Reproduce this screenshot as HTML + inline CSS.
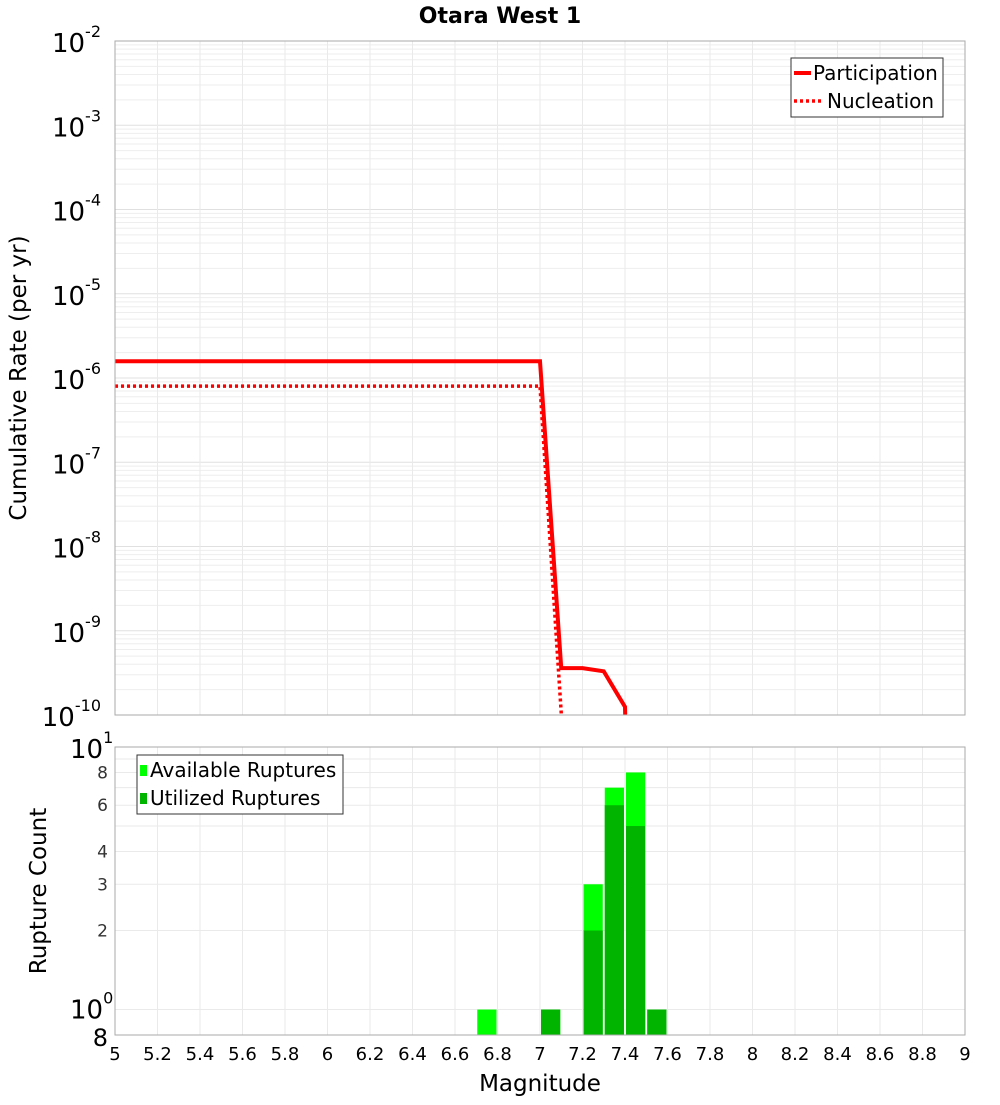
<!DOCTYPE html>
<html><head><meta charset="utf-8"><style>
body{margin:0;background:#fff;font-family:"Liberation Sans","DejaVu Sans",sans-serif}
svg text{font-family:"DejaVu Sans","Liberation Sans",sans-serif}
</style></head><body>
<svg id="c" width="1000" height="1100" xmlns="http://www.w3.org/2000/svg"></svg>
<script>
const partMags=[5,7.0,7.1,7.2,7.3,7.4,7.41];
const partVals=[1.58e-6,1.58e-6,3.6e-10,3.6e-10,3.3e-10,1.25e-10,1e-11];
const nuclMags=[5,7.0,7.1,7.11];
const nuclVals=[8.0e-7,8.0e-7,1.05e-10,1e-11];
const binCenters=[6.75,7.05,7.25,7.35,7.45,7.55];
const available=[1,1,3,7,8,1];
const utilized=[0,1,2,6,5,1];
const xTicks=[5,5.2,5.4,5.6,5.8,6,6.2,6.4,6.6,6.8,7,7.2,7.4,7.6,7.8,8,8.2,8.4,8.6,8.8,9];
const topExps=[-2,-3,-4,-5,-6,-7,-8,-9,-10];
const botTicks=[2,3,4,6,8];

const S=document.getElementById('c'),NS='http://www.w3.org/2000/svg';
function el(t,a,p){const e=document.createElementNS(NS,t);for(const k in a)e.setAttribute(k,a[k]);(p||S).appendChild(e);return e;}
const L=115,R=965,T1=41,B1=715,T2=747,B2=1035;
const x=m=>L+(m-5)/4*(R-L);
const y1=v=>T1+(-2-Math.log10(v))*(B1-T1)/8;
const lmin=Math.log10(0.8);
const y2=v=>B2-(Math.log10(v)-lmin)/(1-lmin)*(B2-T2);

let g=el('g',{}),e;

for(let d=-10;d<-2;d++)for(let k=1;k<10;k++){const yy=y1(k*Math.pow(10,d));if(yy<T1)continue;
 el('line',{x1:L,x2:R,y1:yy,y2:yy,stroke:k==1?'#e0e0e0':'#eeeeee','stroke-width':1},g);}
[1,2,3,4,5,6,7,8,9,10].forEach(v=>{const yy=y2(v);el('line',{x1:L,x2:R,y1:yy,y2:yy,stroke:'#eaeaea'},g);});
xTicks.forEach(m=>{el('line',{x1:x(m),x2:x(m),y1:T1,y2:B1,stroke:'#eaeaea'},g);el('line',{x1:x(m),x2:x(m),y1:T2,y2:B2,stroke:'#eaeaea'},g);});

const bw=x(5.1)-x(5)-2;
binCenters.forEach((m,i)=>{
 e=el('rect',{x:x(m)-bw/2,y:y2(available[i]),width:bw,height:B2-y2(available[i]),fill:'#00ff00'});
 
 if(utilized[i]>0){e=el('rect',{x:x(m)-bw/2,y:y2(utilized[i]),width:bw,height:B2-y2(utilized[i]),fill:'#00b400'});
 }
});

const cp=el('clipPath',{id:'cp'});
el('rect',{x:L,y:T1,width:R-L,height:B1-T1},cp);
e=el('polyline',{points:nuclMags.map((m,i)=>x(m)+','+y1(nuclVals[i])).join(' '),fill:'none',stroke:'#ff0000','stroke-width':3.5,'stroke-dasharray':'3,3','clip-path':'url(#cp)'});

e=el('polyline',{points:partMags.map((m,i)=>x(m)+','+y1(partVals[i])).join(' '),fill:'none',stroke:'#ff0000','stroke-width':4,'clip-path':'url(#cp)'});


e=el('rect',{x:L,y:T1,width:R-L,height:B1-T1,fill:'none',stroke:'#aaa'});
e=el('rect',{x:L,y:T2,width:R-L,height:B2-T2,fill:'none',stroke:'#aaa'});

topExps.forEach(p=>{const t=el('text',{x:101,y:y1(Math.pow(10,p))+11,'text-anchor':'end','font-size':26});
 t.innerHTML='10<tspan dy="-15" font-size="16">'+p+'</tspan>';
 });
let t=el('text',{x:70,y:y2(10)+11,'font-size':26});t.innerHTML='10<tspan dy="-15" font-size="16">1</tspan>';
t=el('text',{x:70,y:y2(1)+9,'font-size':26});t.innerHTML='10<tspan dy="-15" font-size="16">0</tspan>';
t=el('text',{x:108,y:B2+11,'font-size':24,'text-anchor':'end'});t.textContent='8';
botTicks.forEach(v=>{t=el('text',{x:108,y:y2(v)+6,'font-size':17,'text-anchor':'end',fill:'#333'});t.textContent=v;
 });
xTicks.forEach(m=>{t=el('text',{x:x(m),y:1060,'font-size':18,'text-anchor':'middle'});t.textContent=m;
 });

t=el('text',{x:500,y:23,'font-size':22,'font-weight':'bold','text-anchor':'middle'});t.textContent='Otara West 1';
t=el('text',{x:540,y:1091,'font-size':23,'text-anchor':'middle'});t.textContent='Magnitude';
t=el('text',{x:0,y:0,'font-size':23,'text-anchor':'middle',transform:'translate(26,378) rotate(-90)'});t.textContent='Cumulative Rate (per yr)';
t=el('text',{x:0,y:0,'font-size':23,'text-anchor':'middle',transform:'translate(46,891) rotate(-90)'});t.textContent='Rupture Count';

g=el('g',{});
el('rect',{x:791,y:58,width:152,height:59,fill:'#fff',stroke:'#333'},g);
el('line',{x1:794,x2:811,y1:73,y2:73,stroke:'#f00','stroke-width':4},g);
el('line',{x1:794,x2:821,y1:101,y2:101,stroke:'#f00','stroke-width':3.5,'stroke-dasharray':'3,3'},g);
t=el('text',{x:813,y:80,'font-size':20},g);t.textContent='Participation';
t=el('text',{x:827,y:108,'font-size':20},g);t.textContent='Nucleation';
g=el('g',{});
el('rect',{x:137,y:755,width:206,height:59,fill:'#fff',stroke:'#333'},g);
el('rect',{x:140,y:765,width:7,height:11,fill:'#00ff00'},g);
el('rect',{x:140,y:793,width:7,height:11,fill:'#00b400'},g);
t=el('text',{x:150,y:777,'font-size':20},g);t.textContent='Available Ruptures';
t=el('text',{x:150,y:805,'font-size':20},g);t.textContent='Utilized Ruptures';
</script>
</body></html>
